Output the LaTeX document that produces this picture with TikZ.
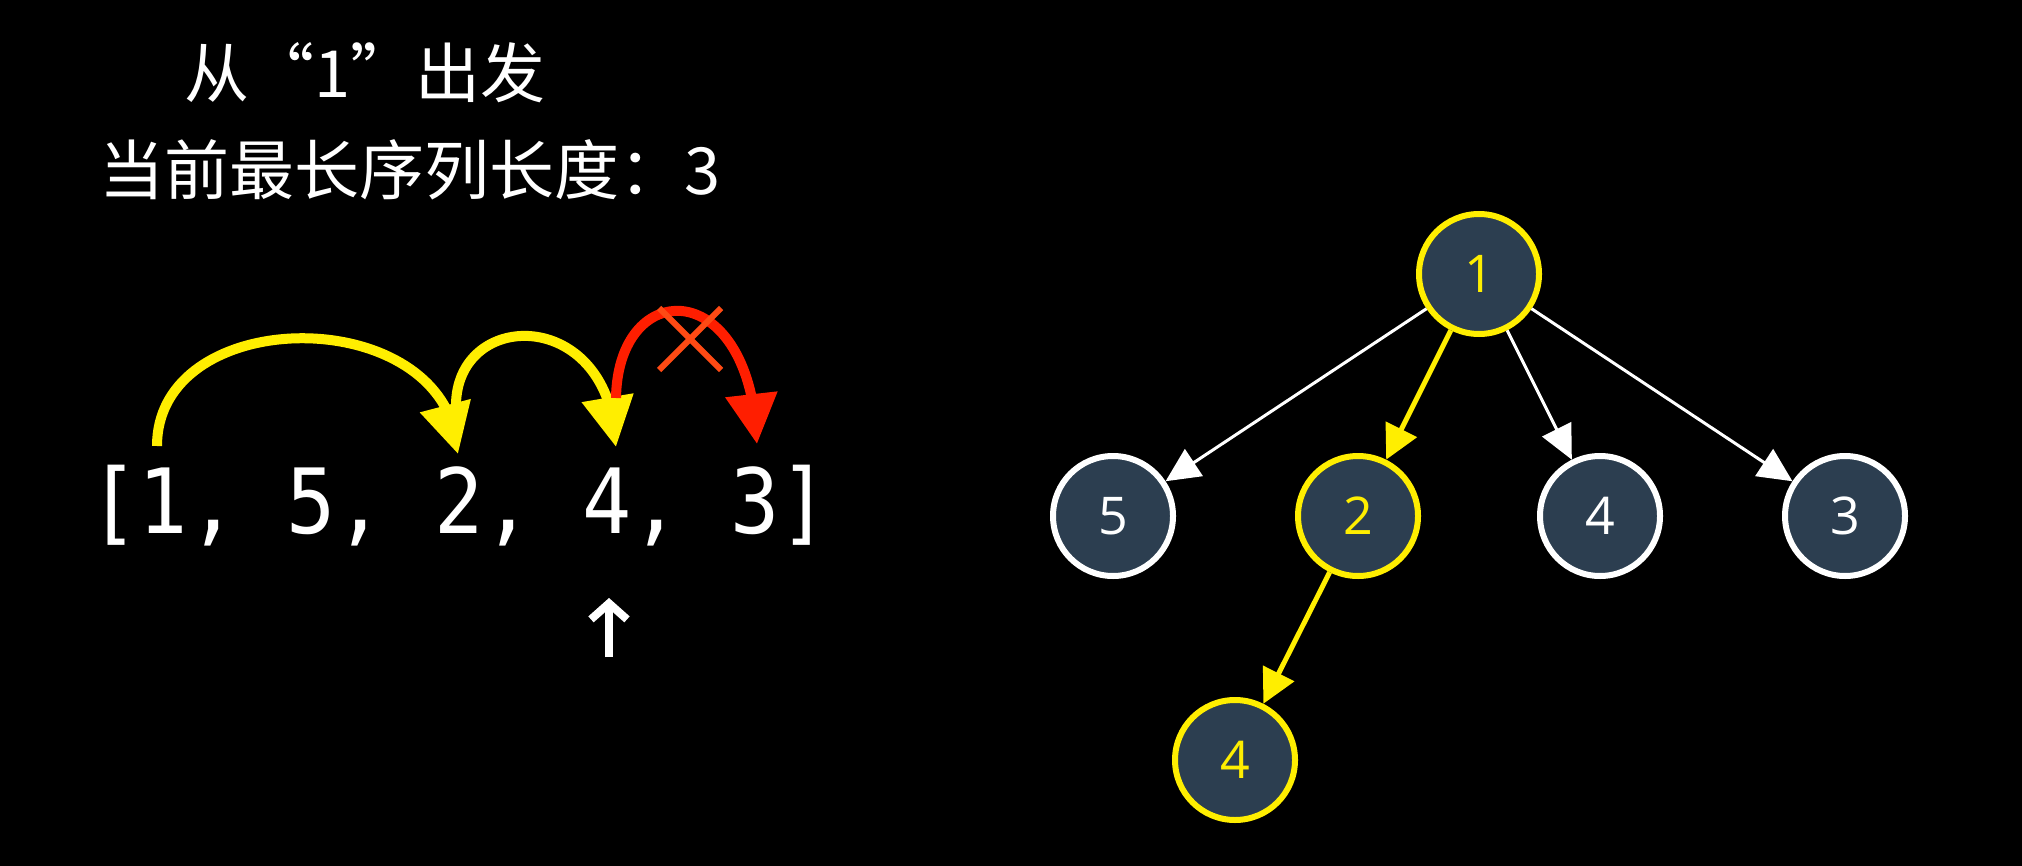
\documentclass[tikz,border=0pt]{standalone}
\usepackage{fontspec}
\usetikzlibrary{arrows.meta,bending,shapes.misc}
\newfontfamily\cjkfont{Noto Sans CJK SC}
\newfontfamily\arrfont[FakeStretch=0.91]{DejaVu Sans Mono}
\newfontfamily\numfont{Open Sans}
\definecolor{slate}{HTML}{2C3E50}
\definecolor{hot}{HTML}{FFEE00}
\definecolor{bad}{HTML}{FF1E00}
\definecolor{cross}{HTML}{FF4A14}
\tikzset{
  vtx/.style={circle,draw=white,fill=slate,line width=3pt,minimum size=60pt,inner sep=0pt,text=white,font=\numfont\fontsize{26}{30}\selectfont},
  vtxon/.style={vtx,draw=hot,text=hot},
  edge/.style={draw=white,line width=1.5pt,-{Triangle[length=17pt,width=16pt]}},
  edgeon/.style={draw=hot,line width=2.5pt,-{Triangle[length=17pt,width=17pt]}},
  hop/.style={draw=hot,line width=5pt,-{Triangle[length=25pt,width=25pt]}},
  title/.style={text=white,font=\cjkfont\fontsize{32.5}{38}\selectfont,inner sep=0pt}
}
\begin{document}
\begin{tikzpicture}[x=0.5pt,y=-0.5pt]
\fill[black] (0,0) rectangle (2022,866);

\node[title] (from) at (365,73) {从“1”出发};
\node[title] (best) at (410,170) {当前最长序列长度：3};

\node[text=white,font=\arrfont\fontsize{45}{52}\selectfont,inner sep=0pt,anchor=base west] (arr) at (89,533) {[1, 5, 2, 4, 3]};

\coordinate (at1) at (157,446);
\coordinate (at2) at (458,454);
\coordinate (on2) at (456,404);
\coordinate (at4) at (616,447);
\coordinate (on4) at (616,398);
\coordinate (at3) at (757,444);

\draw[hop] (at1) .. controls +(0,-145) and +(-6,-153) .. (at2);
\draw[hop] (on2) .. controls +(2,-97) and +(-4,-140) .. (at4);
\draw[hop,draw=bad] (on4) .. controls +(2,-123) and +(-5,-169) .. (at3);
\node[cross out,draw=cross,line width=3pt,minimum size=28pt,inner sep=0pt] (no) at (690,339) {};

\coordinate (ptrtail) at (609,657);
\coordinate (ptrhead) at (609,598);
\draw[white,line width=4pt,-{Straight Barb[length=8pt,width=18pt]}] (ptrtail) -- (ptrhead);

\node[vtxon] (t1) at (1479,274) {1};
\node[vtx] (t5) at (1113,516) {5};
\node[vtxon] (t2) at (1358,516) {2};
\node[vtx] (t4) at (1600,516) {4};
\node[vtx] (t3) at (1845,516) {3};
\node[vtxon] (t24) at (1235,760) {4};

\draw[edge] (t1)--(t5);
\draw[edgeon] (t1)--(t2);
\draw[edge] (t1)--(t4);
\draw[edge] (t1)--(t3);
\draw[edgeon] (t2)--(t24);
\end{tikzpicture}
\end{document}
